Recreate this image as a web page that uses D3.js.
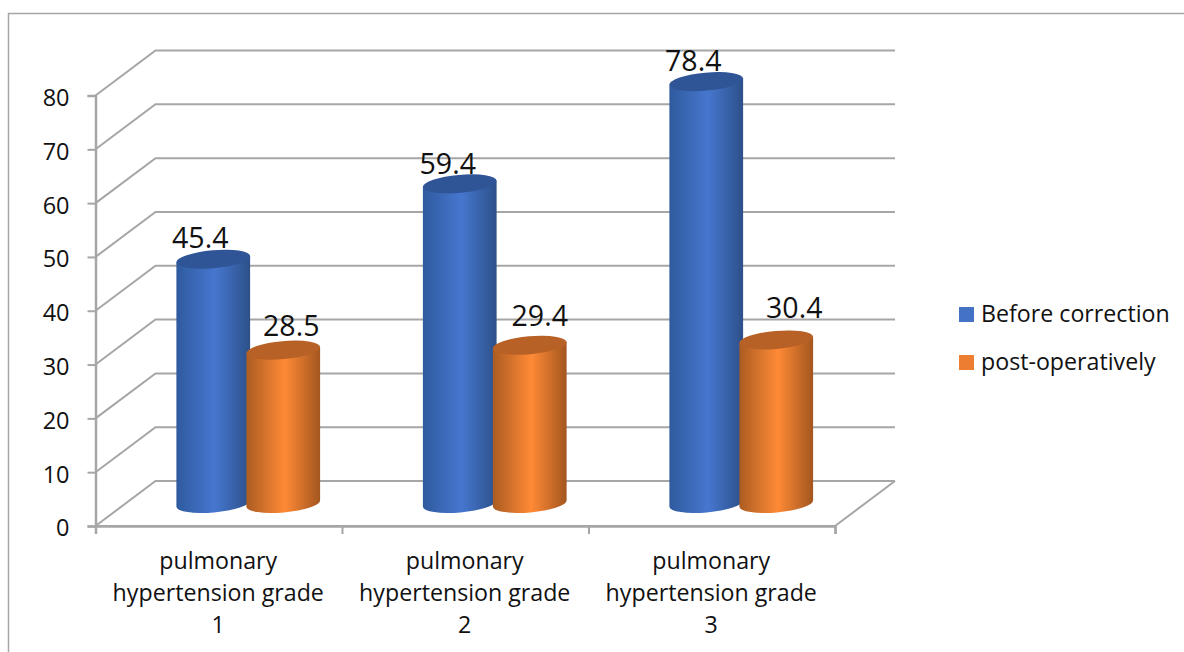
<!DOCTYPE html>
<html>
<head>
<meta charset="utf-8">
<script src="https://cdn.jsdelivr.net/npm/d3@7"></script>
<style>
  html, body { margin: 0; background: #fff; }
  svg { display: block; }
  text { font-family: "Open Sans", sans-serif; fill: #111; }
</style>
</head>
<body>
<div id="chart"></div>
<script>
const categories = ["1", "2", "3"];
const categoryLines = ["pulmonary", "hypertension grade"];
const seriesNames = ["Before correction", "post-operatively"];
const beforeValues = [45.4, 59.4, 78.4];
const postValues = [28.5, 29.4, 30.4];
const yTicks = [0, 10, 20, 30, 40, 50, 60, 70, 80];

const width = 1184;
const height = 652;

// the plot is a fake 3D box, back wall is shifted by depthX / depthY
const frontLeft = 95.5;
const frontRight = 835;
const frontBottom = 526;
const frontTop = 95.5;
const depthX = 60;
const depthY = 45;

const svg = d3
  .select("#chart")
  .append("svg")
  .attr("width", width)
  .attr("height", height);

const y = d3.scaleLinear().domain([0, 80]).range([frontBottom, frontTop]);
const x = d3.scaleBand().domain(categories).range([frontLeft, frontRight]);
const xEdges = d3
  .scaleLinear()
  .domain([0, categories.length])
  .range([frontLeft, frontRight]);

const gridColor = "#a6a6a6";

const defs = svg.append("defs");

function addBodyGradient(id, edge, mid, edgeRight) {
  const grad = defs.append("linearGradient").attr("id", id);
  grad.append("stop").attr("offset", "0%").attr("stop-color", edge);
  grad.append("stop").attr("offset", "52%").attr("stop-color", mid);
  grad.append("stop").attr("offset", "100%").attr("stop-color", edgeRight);
}

addBodyGradient("body-0", "#2f5a9e", "#4677cf", "#2c5089");
addBodyGradient("body-1", "#ab5c22", "#ff8a36", "#a3561f");

const topColors = ["#2f5597", "#b86126"];
const legendColors = ["#4472c4", "#ed7d31"];

// chart frame, cropped by the picture on the right and at the bottom
svg
  .append("path")
  .attr("d", `M8.5,${height}V13.5H${width}`)
  .attr("fill", "none")
  .attr("stroke", gridColor)
  .attr("stroke-width", 1.5);

// floor and walls
svg
  .append("path")
  .attr(
    "d",
    `M${frontLeft},${frontBottom}L${frontRight},${frontBottom}L${frontRight + depthX},${frontBottom - depthY}`,
  )
  .attr("fill", "none")
  .attr("stroke", gridColor)
  .attr("stroke-width", 2);

svg
  .selectAll("path.grid")
  .data(yTicks)
  .join("path")
  .attr("class", "grid")
  .attr(
    "d",
    (d) =>
      `M${frontLeft},${y(d)}L${frontLeft + depthX},${y(d) - depthY}H${frontRight + depthX}`,
  )
  .attr("fill", "none")
  .attr("stroke", gridColor)
  .attr("stroke-width", 2);

// axes
const yAxis = svg
  .append("g")
  .attr("transform", `translate(${frontLeft},0)`)
  .call(d3.axisLeft(y).tickValues(yTicks).tickSize(8).tickPadding(18));

const xAxis = svg
  .append("g")
  .attr("transform", `translate(0,${frontBottom})`)
  .call(
    d3
      .axisBottom(xEdges)
      .tickValues(d3.range(categories.length + 1))
      .tickSize(8)
      .tickFormat(""),
  );

[yAxis, xAxis].forEach((axis) => {
  axis.selectAll("path, line").attr("stroke", gridColor).attr("stroke-width", 2);
  axis.select("path").attr("stroke-width", 2.5);
});

yAxis
  .selectAll("text")
  .attr("font-size", 23.5)
  .attr("font-family", "Open Sans")
  .attr("fill", "#111")
  .attr("dy", "0.42em");

// category labels
const categoryLabels = svg
  .selectAll("text.category")
  .data(categories)
  .join("text")
  .attr("class", "category")
  .attr("text-anchor", "middle")
  .attr("font-size", 23.2);

[...categoryLines, null].forEach((line, i) => {
  categoryLabels
    .append("tspan")
    .attr("x", (d) => x(d) + x.bandwidth() / 2 - 0.5)
    .attr("y", 569 + i * 32)
    .text((d) => (line === null ? d : line));
});

// cylinders
const cylRx = 37;
const cylRy = 9;
const cylTilt = -5;
const cylBase = 503.5;
const cylShift = 29.5;
const cylGap = 35;
const unitsToPx = y(0) - y(1);

const bars = categories.flatMap((category, i) => [
  { category, series: 0, value: beforeValues[i] },
  { category, series: 1, value: postValues[i] },
]);

const barX = (d) =>
  x(d.category) + x.bandwidth() / 2 + cylShift + (d.series ? cylGap : -cylGap);
const barTop = (d) => cylBase - d.value * unitsToPx;

function cylinderPath(d) {
  const tiltRad = (cylTilt * Math.PI) / 180;
  const dx = cylRx * Math.cos(tiltRad);
  const dy = cylRx * Math.sin(tiltRad);
  const cx = barX(d);
  const top = barTop(d);
  return (
    `M${cx - dx},${top - dy}` +
    `L${cx - dx},${cylBase - dy}` +
    `A${cylRx},${cylRy} ${cylTilt} 0 0 ${cx + dx},${cylBase + dy}` +
    `L${cx + dx},${top + dy}Z`
  );
}

const barGroups = svg.selectAll("g.bar").data(bars).join("g").attr("class", "bar");

barGroups
  .append("path")
  .attr("d", cylinderPath)
  .attr("fill", (d) => `url(#body-${d.series})`);

barGroups
  .append("ellipse")
  .attr("rx", cylRx)
  .attr("ry", cylRy)
  .attr(
    "transform",
    (d) => `translate(${barX(d)},${barTop(d)}) rotate(${cylTilt})`,
  )
  .attr("fill", (d) => topColors[d.series]);

// data labels were moved by hand in the original, so each has its own nudge
const labelNudgeX = [-13, 8, -12, 10, -13, 18];
const labelNudgeY = [-11, -14, -10, -19, -11, -22];

svg
  .selectAll("text.value")
  .data(bars)
  .join("text")
  .attr("class", "value")
  .attr("text-anchor", "middle")
  .attr("font-size", 28.5)
  .attr("x", (d, i) => barX(d) + labelNudgeX[i])
  .attr("y", (d, i) => barTop(d) + labelNudgeY[i])
  .text((d) => d.value);

// legend
const legend = svg
  .selectAll("g.legend")
  .data(seriesNames)
  .join("g")
  .attr("class", "legend")
  .attr("transform", (d, i) => `translate(959,${307 + i * 48})`);

legend
  .append("rect")
  .attr("width", 15)
  .attr("height", 15)
  .attr("fill", (d, i) => legendColors[i]);

legend
  .append("text")
  .attr("x", 22)
  .attr("y", 15)
  .attr("font-size", 23.2)
  .text((d) => d);
</script>
</body>
</html>
